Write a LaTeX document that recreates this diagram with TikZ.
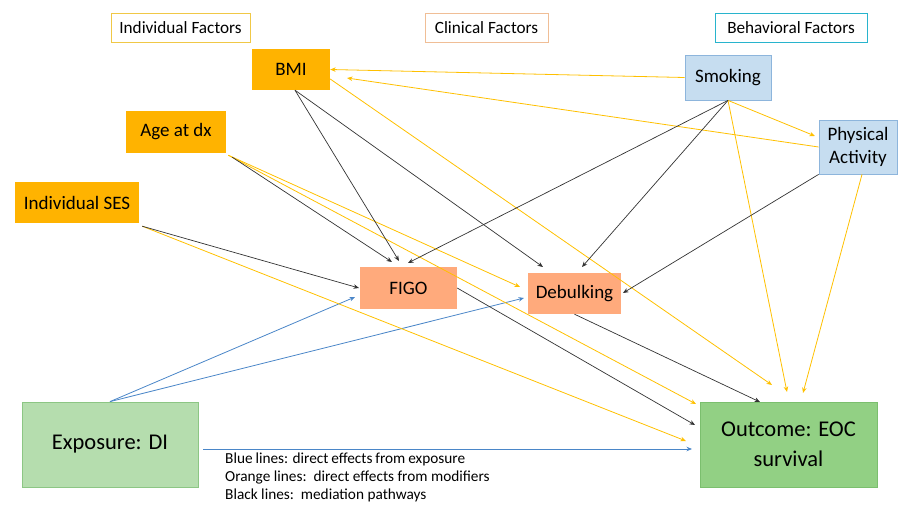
\documentclass[tikz,border=0pt]{standalone}
\usepackage{fontspec}
\setmainfont{Carlito}
\usetikzlibrary{arrows.meta}
\definecolor{cyel}{HTML}{FFB300}
\definecolor{csal}{HTML}{FFAA7C}
\definecolor{cblu}{HTML}{C6DDF0}
\definecolor{cblub}{HTML}{8DB5DC}
\definecolor{cgl}{HTML}{B5DDAE}
\definecolor{cglb}{HTML}{8CC684}
\definecolor{cgd}{HTML}{92D084}
\definecolor{cgdb}{HTML}{7BBF6E}
\definecolor{lorg}{HTML}{FFC000}
\definecolor{lblu}{HTML}{4A86C8}
\definecolor{lblk}{HTML}{333333}
\tikzset{
  hdr/.style={draw, line width=0.8pt, fill=white, inner sep=0pt, minimum height=29pt, font=\fontsize{17.2}{20}\selectfont},
  fac/.style={inner sep=0pt, font=\fontsize{19}{22}\selectfont, align=center},
  big/.style={inner sep=0pt, font=\fontsize{22.5}{30}\selectfont, align=center, line width=0.8pt},
  tip/.style={-{Stealth[length=5.5pt,width=4.5pt]}},
  org/.style={tip, draw=lorg, line width=0.8pt},
  blu/.style={tip, draw=lblu, line width=0.8pt},
  blk/.style={tip, draw=lblk, line width=0.7pt},
}
\begin{document}
\begin{tikzpicture}[x=1pt,y=-1pt]
\useasboundingbox (0,0) rectangle (898,506);
% headers
\node[hdr, draw={rgb,255:red,240;green,200;blue,70}, minimum width=139pt] (indf) at (180.5,27.5) {Individual Factors};
\node[hdr, draw={rgb,255:red,240;green,190;blue,150}, minimum width=123pt] (clinf) at (486.5,27.5) {Clinical Factors};
\node[hdr, draw={rgb,255:red,40;green,180;blue,205}, minimum width=152pt] (behf) at (791,27.5) {Behavioral Factors};
% factor nodes
\node[fac, fill=cyel, minimum width=78pt, minimum height=41pt] (bmi) at (291,69.5) {BMI};
\node[fac, fill=cyel, minimum width=100pt, minimum height=42pt] (age) at (176,132) {Age at dx};
\node[fac, fill=cyel, minimum width=124pt, minimum height=41pt] (ses) at (77,202.5) {Individual SES};
\node[fac, fill=cblu, draw=cblub, line width=0.8pt, minimum width=86pt, minimum height=45pt] (smk) at (728,77.5) {Smoking};
\node[fac, fill=cblu, draw=cblub, line width=0.8pt, minimum width=78pt, minimum height=54pt, font=\fontsize{19}{23}\selectfont] (pa) at (858,147) {Physical\\Activity};
\node[fac, fill=csal, minimum width=97pt, minimum height=42pt] (figo) at (408.5,288) {FIGO};
\node[fac, fill=csal, minimum width=93pt, minimum height=41pt] (deb) at (574.5,293.5) {Debulking};
\node[big, fill=cgl, draw=cglb, minimum width=176pt, minimum height=85pt] (expo) at (110,444.5) {Exposure: DI};
\node[big, fill=cgd, draw=cgdb, minimum width=177pt, minimum height=85pt] (out) at (788.5,444.5) {Outcome: EOC\\survival};
% legend
\node[anchor=north west, inner sep=0pt, align=left, font=\fontsize{15.3}{18}\selectfont] (leg) at (225,452.5) {\makebox[240pt][s]{Blue lines: direct effects from exposure}\\Orange lines:\ \ direct effects from modifiers\\Black lines:\ \ mediation pathways};
% arrow end coordinates
\coordinate (bmiA) at (347,78);
\coordinate (paA) at (815,136);
\coordinate (figoB) at (355,297);
\coordinate (figoS) at (359,288);
\coordinate (figoAg) at (392,262);
\coordinate (figoBm) at (399,261);
\coordinate (figoSm) at (408,263);
\coordinate (debB) at (524,298);
\coordinate (debAg) at (520,287);
\coordinate (debBm) at (543,267);
\coordinate (debSm) at (582,267);
\coordinate (debPa) at (623,293);
\coordinate (outB) at (692,449);
\coordinate (outSes) at (686,441);
\coordinate (outF) at (695,425);
\coordinate (outAg) at (696,404);
\coordinate (outD) at (760,402);
\coordinate (outBm) at (772,385);
\coordinate (outSm) at (787,392);
\coordinate (outPa) at (803,393);
% blue
\draw[blu] (expo.north) -- (figoB);
\draw[blu] (expo.north) -- (debB);
\draw[blu] ([xshift=5pt,yshift=-4.5pt]expo.east) -- (outB);
% orange
\draw[org] (smk.west) -- (bmi.east);
\draw[org] (pa.west) -- (bmiA);
\draw[org] (smk.south) -- (paA);
\draw[org] (smk.south) -- (outSm);
\draw[org] ([xshift=4pt]pa.south) -- (outPa);
\draw[org] ([yshift=-9.5pt]bmi.east) -- (outBm);
\draw[org] ([xshift=2pt,yshift=-2pt]age.south east) -- (debAg);
\draw[org] ([xshift=2pt,yshift=-2pt]age.south east) -- (outAg);
\draw[org] ([xshift=3pt,yshift=-3pt]ses.south east) -- (outSes);
% black
\draw[blk] ([xshift=4pt]bmi.south) -- (figoBm);
\draw[blk] ([xshift=4pt]bmi.south) -- (debBm);
\draw[blk] ([xshift=6pt,yshift=-4pt]age.south east) -- (figoAg);
\draw[blk] ([xshift=3pt,yshift=-3pt]ses.south east) -- (figoS);
\draw[blk] (smk.south) -- (figoSm);
\draw[blk] (smk.south) -- (debSm);
\draw[blk] (pa.south west) -- (debPa);
\draw[blk] (figo.east) -- (outF);
\draw[blk] (deb.south) -- (outD);
\end{tikzpicture}
\end{document}
